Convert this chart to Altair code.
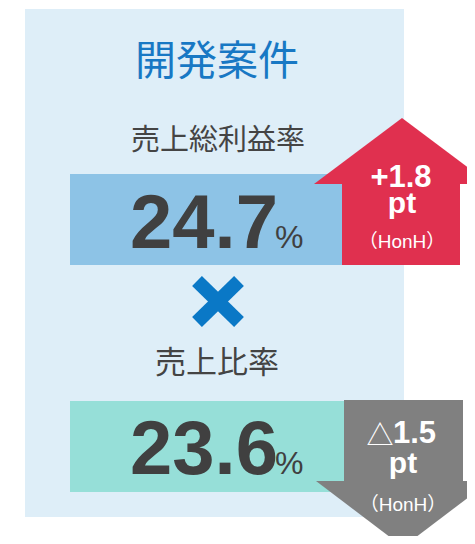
import altair as alt
import pandas as pd

# ---- data ----
title_text = "開発案件"
metric_labels = ["売上総利益率", "売上比率"]
metric_values = [24.7, 23.6]
change_values = [1.8, -1.5]
change_unit = "pt"
change_basis = "（HonH）"
value_unit = "%"


def fmt_change(v):
    return ("+" if v >= 0 else "△") + f"{abs(v):.1f}"


# ---- layout (pixel coordinates of the 475x544 window; chart sits inside the 8px page margin) ----
XS = alt.Scale(domain=[8, 467], nice=False, zero=False)
YS = alt.Scale(domain=[8, 536], nice=False, zero=False, reverse=True)


def ex(f="x"):
    return alt.X(f"{f}:Q", scale=XS, axis=None)


def ey(f="y"):
    return alt.Y(f"{f}:Q", scale=YS, axis=None)


rects = pd.DataFrame([
    dict(x=25, x2=404, y=9, y2=517, c="#DEEEF8"),
    dict(x=70, x2=346, y=174, y2=265, c="#8DC3E6"),
    dict(x=70, x2=348, y=401, y2=492, c="#96DFD8"),
    dict(x=342, x2=460, y=183, y2=265, c="#E0304F"),
    dict(x=344, x2=463, y=400, y2=482, c="#808080"),
])
rect_layer = alt.Chart(rects).mark_rect(clip=True).encode(
    x=ex(), x2=alt.X2("x2:Q"), y=ey(), y2=alt.Y2("y2:Q"),
    color=alt.Color("c:N", scale=None),
)

up_head = pd.DataFrame(dict(x=[314, 402, 490], y=[184, 118, 184], y2=[184, 184, 184]))
down_head = pd.DataFrame(dict(x=[316, 403, 490], y=[481, 547, 481], y2=[481, 481, 481]))
up_layer = alt.Chart(up_head).mark_area(color="#E0304F", clip=True).encode(
    x=ex(), y=alt.Y("y:Q", scale=YS, axis=None, stack=None), y2=alt.Y2("y2:Q"))
down_layer = alt.Chart(down_head).mark_area(color="#808080", clip=True).encode(
    x=ex(), y=alt.Y("y:Q", scale=YS, axis=None, stack=None), y2=alt.Y2("y2:Q"))

cross = pd.DataFrame(dict(x=[197, 197], y=[281, 322], x2=[239, 239], y2=[322, 281]))
cross_layer = alt.Chart(cross).mark_rule(color="#0A78C6", strokeWidth=14).encode(
    x=ex(), y=ey(), x2=alt.X2("x2:Q"), y2=alt.Y2("y2:Q"))

CJK = "Noto Sans CJK JP"
LAT = "Liberation Sans, Arial, Noto Sans CJK JP"


def text_layer(rows, size, color, font, weight="normal", align="center"):
    df = pd.DataFrame(rows, columns=["t", "x", "y"])
    return alt.Chart(df).mark_text(
        fontSize=size, color=color, font=font, fontWeight=weight,
        align=align, baseline="alphabetic",
    ).encode(x=ex(), y=ey(), text="t:N")


layers = [
    rect_layer, up_layer, down_layer, cross_layer,
    text_layer([(title_text, 217, 75)], 41, "#1878C4", CJK),
    text_layer([(metric_labels[0], 218, 150)], 29, "#444444", CJK),
    text_layer([(metric_labels[1], 217, 373)], 31, "#444444", CJK),
    text_layer([(f"{metric_values[0]:.1f}", 130, 248),
                (f"{metric_values[1]:.1f}", 130, 474)], 76, "#404040", LAT, "bold", "left"),
    text_layer([(value_unit, 275, 248), (value_unit, 275, 474)], 32, "#404040", LAT, "normal", "left"),
    # up arrow texts
    text_layer([(fmt_change(change_values[0]), 401, 187)], 31, "white", LAT, "bold"),
    text_layer([(change_unit, 402, 213), (change_unit, 403, 473)], 30, "white", LAT, "bold"),
    text_layer([(change_basis, 402, 248), (change_basis, 403, 511)], 19, "white", LAT),
    # down arrow texts
    text_layer([(fmt_change(change_values[1])[0], 380, 445)], 27, "white", CJK),
    text_layer([(fmt_change(change_values[1])[1:], 393, 443)], 31, "white", LAT, "bold", "left"),
]

chart = alt.layer(*layers).properties(
    width=459, height=528, padding=0,
    autosize=alt.AutoSizeParams(type="none"),
    background="white",
).configure_view(stroke=None)

chart.save("out.html", embed_options={"renderer": "svg", "actions": False})
